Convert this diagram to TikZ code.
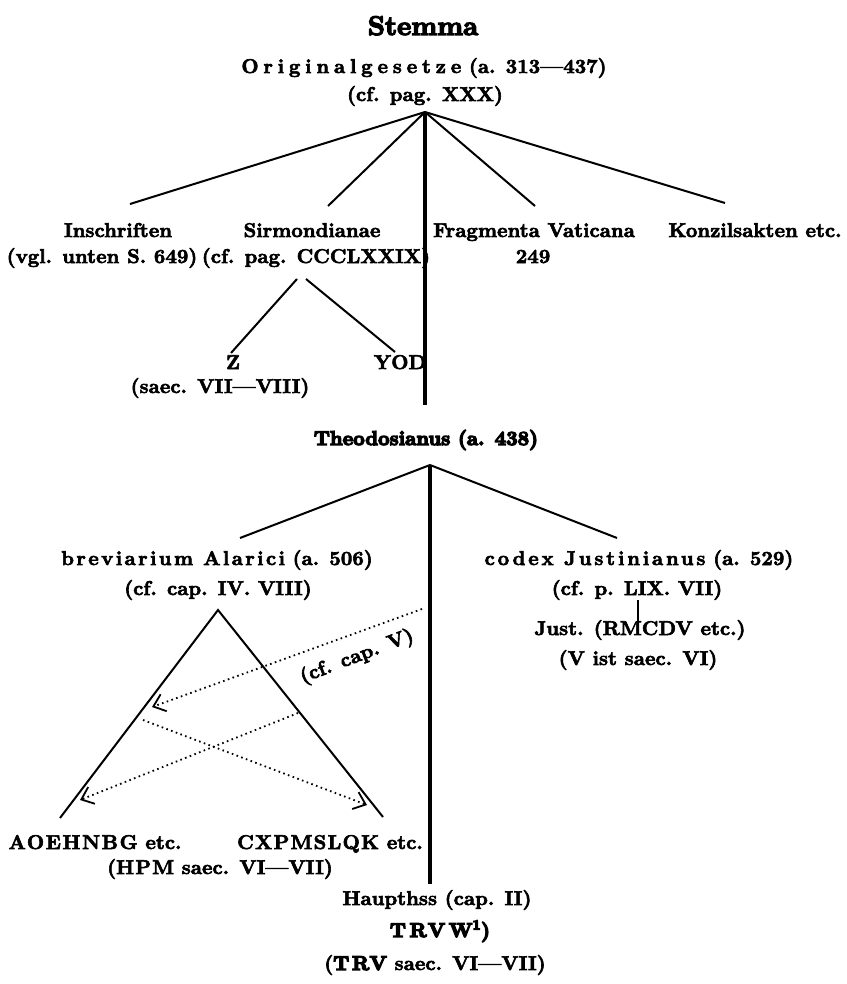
\documentclass[tikz,border=0pt]{standalone}
\usepackage{fontspec}
\setmainfont{lmroman10-regular.otf}[BoldFont=lmroman10-bold.otf, ItalicFont=lmroman10-italic.otf]
\usetikzlibrary{arrows.meta}
\newcommand\lsp[2]{{\addfontfeature{LetterSpace=#1}#2}}
% stroked glyph outlines for the heavy print look
\newcommand\strk[1]{\special{pdf:literal direct 2 Tr #1 w}}
\newcommand\unstrk{\special{pdf:literal direct 0 Tr}}
\newcommand\hvy[1]{\strk{1.3}#1\strk{0.6}}
\begin{document}
\begin{tikzpicture}[x=1pt,y=-1pt,
  txt/.style={font=\fontsize{20}{24}\selectfont\bfseries, inner sep=0pt, anchor=base,
    execute at begin node={\strk{0.6}}, execute at end node={\unstrk}},
  branch/.style={line width=2pt},
  trunk/.style={line width=4.2pt},
  dots/.style={line width=1.8pt, dash pattern=on 1.6pt off 3.4pt},
  barb/.style={-{Straight Barb[length=11pt,width=18pt,line width=1.8pt]}}]
\useasboundingbox (0,0) rectangle (846,984);

% header
\node[txt,font=\fontsize{27}{30}\selectfont\bfseries] (title) at (423,35) {\hvy{Stemma}};
\node[txt] (orig) at (424,73) {\lsp{24}{Originalgesetze} (a. 313—437)};
\node[txt] (orig2) at (425,101) {(cf. pag. XXX)};
\coordinate (root) at (425,112);

% first row
\node[txt] (insch) at (118,237) {Inschriften};
\node[txt] (insch2) at (102,263) {(vgl. unten S. 649)};
\node[txt] (sirm) at (312,237) {Sirmondianae};
\node[txt] (sirm2) at (316,263) {(cf. pag. CCCLXXIX)};
\node[txt] (frag) at (534,237) {Fragmenta Vaticana};
\node[txt] (frag2) at (533,263) {249};
\node[txt] (konz) at (755,237) {Konzilsakten etc.};

\coordinate (e1) at (130,204);
\coordinate (e2) at (328,206);
\coordinate (e3) at (535,206);
\coordinate (e4) at (725,203);
\draw[branch] (root) -- (e1);
\draw[branch] (root) -- (e2);
\draw[branch] (root) -- (e3);
\draw[branch] (root) -- (e4);

% Sirmondianae subtree
\node[txt] (z) at (233,369) {Z};
\node[txt] (z2) at (220,393) {(saec. VII—VIII)};
\node[txt] (yod) at (400,369) {YOD};
\coordinate (sa) at (297,279);
\coordinate (sb) at (306,279);
\coordinate (zt) at (231,353);
\coordinate (yt) at (395,352);
\draw[branch] (sa) -- (zt);
\draw[branch] (sb) -- (yt);

% trunk
\coordinate (tr1) at (425,405);
\draw[trunk] (root) -- (tr1);
\node[txt] (theo) at (426,445) {\hvy{Theodosianus (a. 438)}};
\coordinate (tapex) at (430,465);
\coordinate (tbot) at (430,884);
\draw[trunk] (tapex) -- (tbot);

% second level
\node[txt] (brev) at (217,565) {\lsp{12}{breviarium Alarici} (a. 506)};
\node[txt] (brev2) at (218,595) {(cf. cap. IV. VIII)};
\node[txt] (cod) at (639,565) {\lsp{14}{codex Justinianus} (a. 529)};
\node[txt] (cod2) at (637,595) {(cf. p. LIX. VII)};
\node[txt] (just) at (640,635) {Just. (RMCDV etc.)};
\node[txt] (just2) at (638,665) {(V ist saec. VI)};
\coordinate (bl) at (240,538);
\coordinate (cr) at (617,538);
\draw[branch] (tapex) -- (bl);
\draw[branch] (tapex) -- (cr);
\coordinate (j1) at (638,600);
\coordinate (j2) at (638,622);
\draw[line width=1.2pt] (j1) -- (j2);

% breviarium triangle
\coordinate (ba) at (218,610);
\coordinate (bL) at (60,818);
\coordinate (bR) at (383,817);
\draw[branch] (bL) -- (ba) -- (bR);

% dotted cross-contaminations
\coordinate (d1s) at (422,609);
\coordinate (d1e) at (152,707);
\coordinate (d2s) at (143,720);
\coordinate (d2e) at (367,805);
\coordinate (d3s) at (298,713);
\coordinate (d3e) at (80,800);
\draw[dots,barb] (d1s) -- (d1e);
\draw[dots,barb] (d2s) -- (d2e);
\draw[dots,barb] (d3s) -- (d3e);
\node[txt,anchor=center,rotate=21] (capv) at (357,657) {(cf. cap. V)};

% bottom
\node[txt] (aoe) at (95,849) {\lsp{8}{AOEHNBG} etc.};
\node[txt] (cxp) at (330,849) {\lsp{6}{CXPMSLQK} etc.};
\node[txt] (hpm) at (220,874) {(\lsp{6}{HPM} saec. VI—VII)};
\node[txt] (haupt) at (437,905) {Haupthss (cap. II)};
\node[txt] (trvw) at (440,937) {\hvy{\lsp{18}{TRVW}\textsuperscript{1})}};
\node[txt] (trv) at (435,970) {(\hvy{\lsp{14}{TRV}} saec. VI—VII)};
\end{tikzpicture}
\end{document}
